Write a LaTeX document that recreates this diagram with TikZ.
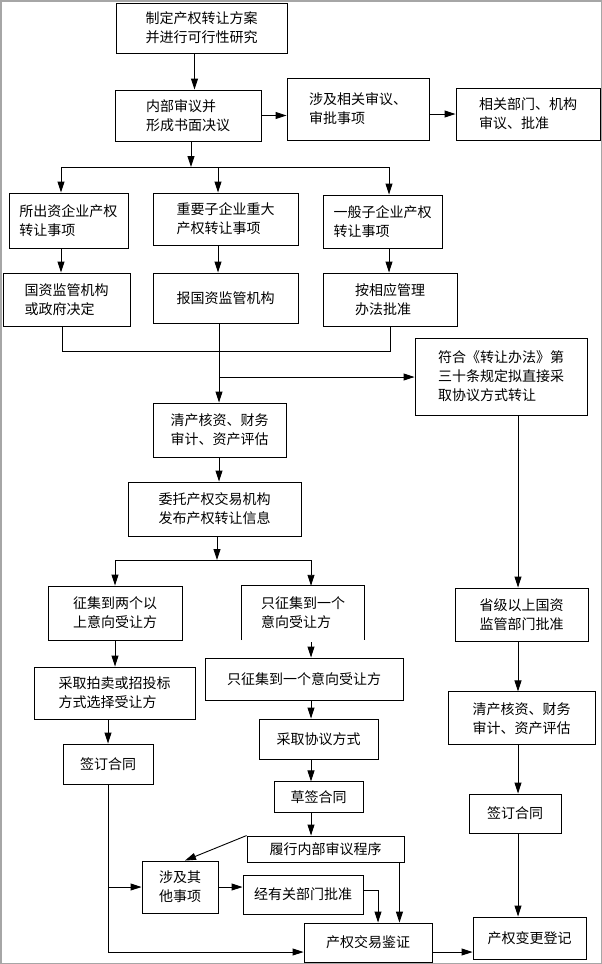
\documentclass[tikz,border=0pt]{standalone}
\usepackage{fontspec}
\newfontfamily\cjk{Noto Sans CJK SC}
\usepackage{tikz}
\usetikzlibrary{positioning,arrows.meta}

\begin{document}
\begin{tikzpicture}[x=1pt, y=-1pt,
    textnode/.style = {rectangle, align=left, inner sep=2pt, font=\cjk\fontsize{14}{19}\selectfont},
    boxnode/.style = {textnode, draw=black, line width=0.9pt},
    link/.style = {line width=0.9pt},
    arr/.style = {line width=0.9pt, -{Triangle[length=11pt,width=7pt]}}]
     \useasboundingbox (0,0) rectangle (602,964);
     \draw[gray!70, line width=1.5pt] (0.75,0.75) rectangle (601.25,963.25);

     \node[boxnode, minimum width=171pt, minimum height=50pt] (1) at (201.5,28) {制定产权转让方案\\并进行可行性研究};
     \node[boxnode, minimum width=146pt, minimum height=51pt] (2) at (188,115.5) {内部审议并\\形成书面决议};
     \node[boxnode, minimum width=142pt, minimum height=62pt] (3) at (358,109) {涉及相关审议、\\审批事项};
     \node[boxnode, minimum width=144pt, minimum height=52pt] (4) at (528,114) {相关部门、机构\\审议、批准};
     \node[boxnode, minimum width=119pt, minimum height=55pt] (5) at (68.5,220.5) {所出资企业产权\\转让事项};
     \node[boxnode, minimum width=145pt, minimum height=52pt] (6) at (225.5,219) {重要子企业重大\\产权转让事项};
     \node[boxnode, minimum width=119pt, minimum height=53pt] (7) at (382.5,221.5) {一般子企业产权\\转让事项};
     \node[boxnode, minimum width=127pt, minimum height=53pt] (8) at (66.5,299.5) {国资监管机构\\或政府决定};
     \node[boxnode, minimum width=145pt, minimum height=50pt] (9) at (225.5,298) {报国资监管机构};
     \node[boxnode, minimum width=134pt, minimum height=53pt] (10) at (390,299.5) {按相应管理\\办法批准};
     \node[boxnode, minimum width=172pt, minimum height=77pt] (11) at (501,376.5) {符合《转让办法》第\\三十条规定拟直接采\\取协议方式转让};
     \node[boxnode, minimum width=133pt, minimum height=54pt] (12) at (219.5,430) {清产核资、财务\\审计、资产评估};
     \node[boxnode, minimum width=173pt, minimum height=54pt] (13) at (214.5,509) {委托产权交易机构\\发布产权转让信息};
     \node[boxnode, minimum width=134pt, minimum height=54pt] (14) at (115,613) {征集到两个以\\上意向受让方};
     \node[textnode, minimum width=122pt, minimum height=54pt] (15) at (303,613) {只征集到一个\\意向受让方};
     \node[boxnode, minimum width=198pt, minimum height=42pt] (16) at (304,679) {只征集到一个意向受让方};
     \node[boxnode, minimum width=161pt, minimum height=52pt] (17) at (114.5,693) {采取拍卖或招投标\\方式选择受让方};
     \node[boxnode, minimum width=90pt, minimum height=40pt] (18) at (108,764) {签订合同};
     \node[boxnode, minimum width=119pt, minimum height=40pt] (19) at (318.5,739) {采取协议方式};
     \node[boxnode, minimum width=89pt, minimum height=31pt] (20) [below=22pt of 19] {草签合同};
     \node[boxnode, minimum width=157pt, minimum height=26pt] (21) at (325.5,849) {履行内部审议程序};
     \node[boxnode, minimum width=76pt, minimum height=52pt] (22) at (180,887) {涉及其\\他事项};
     \node[boxnode, minimum width=120pt, minimum height=39pt] (23) at (303,894.5) {经有关部门批准};
     \node[boxnode, minimum width=128pt, minimum height=39pt] (24) at (368,942.5) {产权交易鉴证};
     \node[boxnode, minimum width=133pt, minimum height=53pt] (25) at (521.5,614.5) {省级以上国资\\监管部门批准};
     \node[boxnode, minimum width=147pt, minimum height=53pt] (26) [below=50pt of 25] {清产核资、财务\\审计、资产评估};
     \node[boxnode, minimum width=92pt, minimum height=39pt] (27) at (515,813.5) {签订合同};
     \node[boxnode, minimum width=113pt, minimum height=42pt] (28) at (529.5,938) {产权变更登记};

     \coordinate (a1) at (61,167);
     \coordinate (a2) at (218,167);
     \coordinate (a3) at (389,167);
     \coordinate (m1) at (62,351);
     \coordinate (m2) at (390,351);
     \coordinate (t) at (219,377);
     \coordinate (s2) at (217,560);
     \coordinate (b1) at (115,560);
     \coordinate (b2) at (311,560);
     \coordinate (low) at (108,952);
     \coordinate (r) at (518,0);

     \draw[arr] ([xshift=-7pt]1.south) -- ([xshift=-7pt]1.south |- 2.north);
     \draw[arr] (2.east) -- (2.east -| 3.west);
     \draw[arr] (3.east |- 4.west) -- (4.west);
     \draw[arr] ([xshift=3pt]2.south) -- ([xshift=3pt]2.south |- a1);
     \draw[link] (a1) -- (a3);
     \draw[arr] (a1) -- (a1 |- 5.north);
     \draw[arr] (a2) -- (a2 |- 6.north);
     \draw[arr] (a3) -- (a3 |- 7.north);
     \draw[arr] (a1 |- 5.south) -- (a1 |- 8.north);
     \draw[arr] (a2 |- 6.south) -- (a2 |- 9.north);
     \draw[arr] (a3 |- 7.south) -- (a3 |- 10.north);
     \draw[link] (m1 |- 8.south) -- (m1) -- (m2) -- (m2 |- 10.south);
     \draw[arr] (t |- 9.south) -- (t |- 12.north);
     \draw[arr] (t) -- (t -| 11.west);
     \draw[arr] (t |- 12.south) -- (t |- 13.north);
     \draw[arr] (s2 |- 13.south) -- (s2);
     \draw[link] (b1) -- (b2);
     \draw[arr] (b1) -- (b1 |- 14.north);
     \draw[arr] (b2) -- (b2 |- 15.north);
     \draw[link] (15.south west) -- (15.north west) -- (15.north east) -- (15.south east);
     \draw[arr] ([yshift=-2pt]b2 |- 15.south) -- (b2 |- 16.north);
     \draw[arr] (b2 |- 16.south) -- (b2 |- 19.north);
     \draw[arr] (b2 |- 19.south) -- (b2 |- 20.north);
     \draw[arr] (b2 |- 20.south) -- (b2 |- 21.north);
     \draw[arr] (21.north west) -- ([xshift=5pt]22.north);
     \draw[arr] (14.south) -- (14.south |- 17.north);
     \draw[arr] (18.north |- 17.south) -- (18.north);
     \draw[arr] (18.south) -- (low) -- (low -| 24.west);
     \draw[arr] (18.south |- 22.west) -- (22.west);
     \draw[arr] (22.east) -- (22.east -| 23.west);
     \draw[arr] ([yshift=4pt]23.east) -| ([xshift=10pt]24.north);
     \draw[arr] ([xshift=-5pt]21.south east) -- ([xshift=-5pt]21.south east |- 24.north);
     \draw[arr] (low -| 24.east) -- (low -| 28.west);
     \draw[arr] (r |- 11.south) -- (r |- 25.north);
     \draw[arr] (r |- 25.south) -- (r |- 26.north);
     \draw[arr] (r |- 26.south) -- (r |- 27.north);
     \draw[arr] (r |- 27.south) -- (r |- 28.north);
\end{tikzpicture}
\end{document}
